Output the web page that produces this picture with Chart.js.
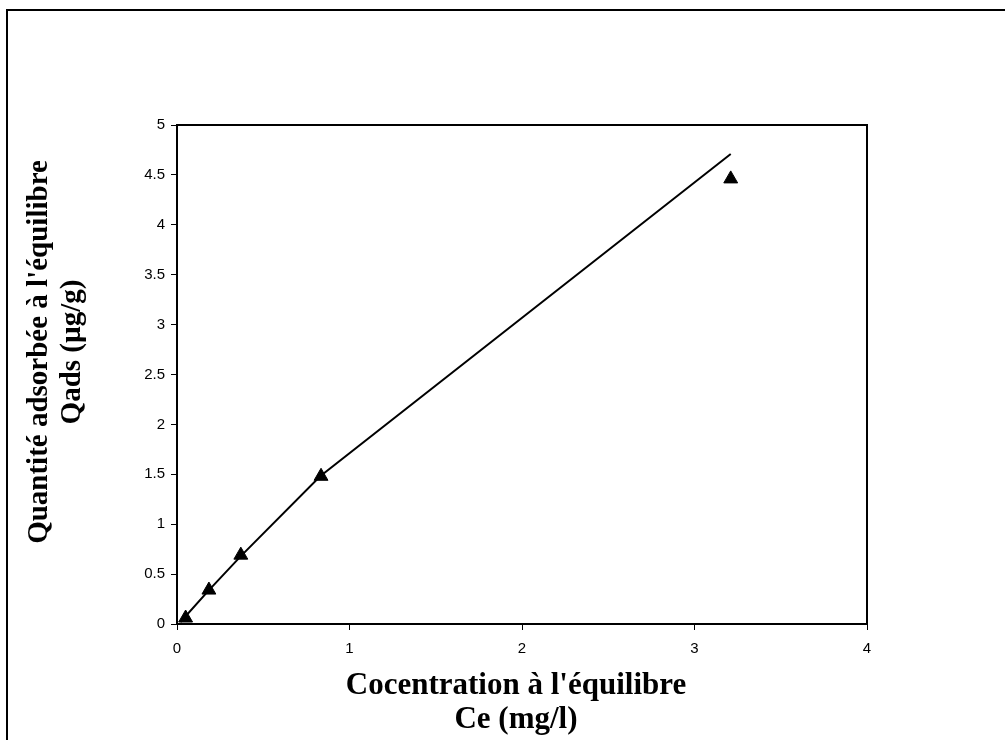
<!DOCTYPE html>
<html>
<head>
<meta charset="utf-8">
<script src="https://cdn.jsdelivr.net/npm/chart.js@4/dist/chart.umd.min.js"></script>
<style>
  html, body { margin: 0; padding: 0; background: #fff; }
  #wrap { position: relative; width: 1005px; height: 740px; }
</style>
</head>
<body>
<div id="wrap"><canvas id="c" width="1005" height="740"></canvas></div>
<script>
// Measured points
const ceValues = [0.05, 0.185, 0.37, 0.835, 3.21];
const qadsValues = [0.06, 0.34, 0.69, 1.48, 4.46];
// Trend line
const fitCe = [0.02, 0.18, 0.37, 0.83, 3.21];
const fitQads = [0.02, 0.33, 0.68, 1.48, 4.71];
// Axes
const xTicks = [0, 1, 2, 3, 4];
const yTicks = [0, 0.5, 1, 1.5, 2, 2.5, 3, 3.5, 4, 4.5, 5];
const xTitle = ["Cocentration à l'équilibre", "Ce (mg/l)"];
const yTitle = ["Quantité adsorbée à l'équilibre", "Qads (µg/g)"];

const pointsData = ceValues.map((x, i) => ({ x: x, y: qadsValues[i] }));
const fitData = fitCe.map((x, i) => ({ x: x, y: fitQads[i] }));

const frame = {
  id: 'frame',
  beforeDraw(chart) {
    const ctx = chart.ctx;
    ctx.save();
    ctx.fillStyle = '#fff';
    ctx.fillRect(0, 0, chart.width, chart.height);
    ctx.strokeStyle = '#000';
    ctx.lineWidth = 2;
    ctx.beginPath();
    ctx.moveTo(7, 760);
    ctx.lineTo(7, 10);
    ctx.lineTo(1010, 10);
    ctx.stroke();
    ctx.restore();
  },
  afterDatasetsDraw(chart) {
    const a = chart.chartArea;
    const ctx = chart.ctx;
    ctx.save();
    ctx.strokeStyle = '#000';
    ctx.lineWidth = 2;
    ctx.strokeRect(a.left, a.top, a.right - a.left, a.bottom - a.top);
    ctx.restore();
  },
  afterDraw(chart) {
    const ctx = chart.ctx;
    // Y axis title (two centred lines, rotated)
    ctx.save();
    ctx.translate(40, 352);
    ctx.rotate(-Math.PI / 2);
    ctx.fillStyle = '#000';
    ctx.font = 'bold 29px "Liberation Serif", "Times New Roman", serif';
    ctx.textAlign = 'center';
    ctx.textBaseline = 'middle';
    yTitle.forEach((t, i) => ctx.fillText(t, 0, i * 33));
    ctx.restore();
    // X axis title (two centred lines)
    ctx.save();
    ctx.fillStyle = '#000';
    ctx.font = 'bold 31px "Liberation Serif", "Times New Roman", serif';
    ctx.textAlign = 'center';
    ctx.textBaseline = 'middle';
    xTitle.forEach((t, i) => ctx.fillText(t, 516, 686 + i * 34));
    ctx.restore();
  }
};

new Chart(document.getElementById('c'), {
  type: 'scatter',
  data: {
    datasets: [
      {
        label: 'fit',
        data: fitData,
        showLine: true,
        borderColor: '#000',
        borderWidth: 2,
        pointRadius: 0,
        tension: 0,
        fill: false
      },
      {
        label: 'Qads',
        data: pointsData,
        pointStyle: 'triangle',
        pointRadius: 8,
        pointBackgroundColor: '#000',
        pointBorderColor: '#000',
        pointBorderWidth: 1,
        showLine: false
      }
    ]
  },
  options: {
    responsive: false,
    animation: false,
    events: [],
    layout: { padding: { left: 0, top: 125, right: 138, bottom: 0 } },
    plugins: { legend: { display: false }, tooltip: { enabled: false } },
    scales: {
      x: {
        type: 'linear',
        min: 0, max: 4,
        afterBuildTicks(s) { s.ticks = xTicks.map(v => ({ value: v })); },
        afterFit(s) { s.height = 116; },
        grid: { display: true, drawOnChartArea: false, drawTicks: true, tickLength: 6, color: '#000', lineWidth: 1 },
        border: { display: true, color: '#000', width: 2 },
        ticks: {
          color: '#000', font: { family: 'Liberation Sans, Arial', size: 15 }, padding: 10, maxRotation: 0,
          callback: v => String(v)
        },
        title: { display: false }
      },
      y: {
        type: 'linear',
        min: 0, max: 5,
        afterBuildTicks(s) { s.ticks = yTicks.map(v => ({ value: v })); },
        afterFit(s) { s.width = 177; },
        grid: { display: true, drawOnChartArea: false, drawTicks: true, tickLength: 6, color: '#000', lineWidth: 1 },
        border: { display: true, color: '#000', width: 2 },
        ticks: {
          color: '#000', font: { family: 'Liberation Sans, Arial', size: 15 }, padding: 6,
          callback: v => String(v)
        },
        title: { display: false }
      }
    }
  },
  plugins: [frame]
});
</script>
</body>
</html>
